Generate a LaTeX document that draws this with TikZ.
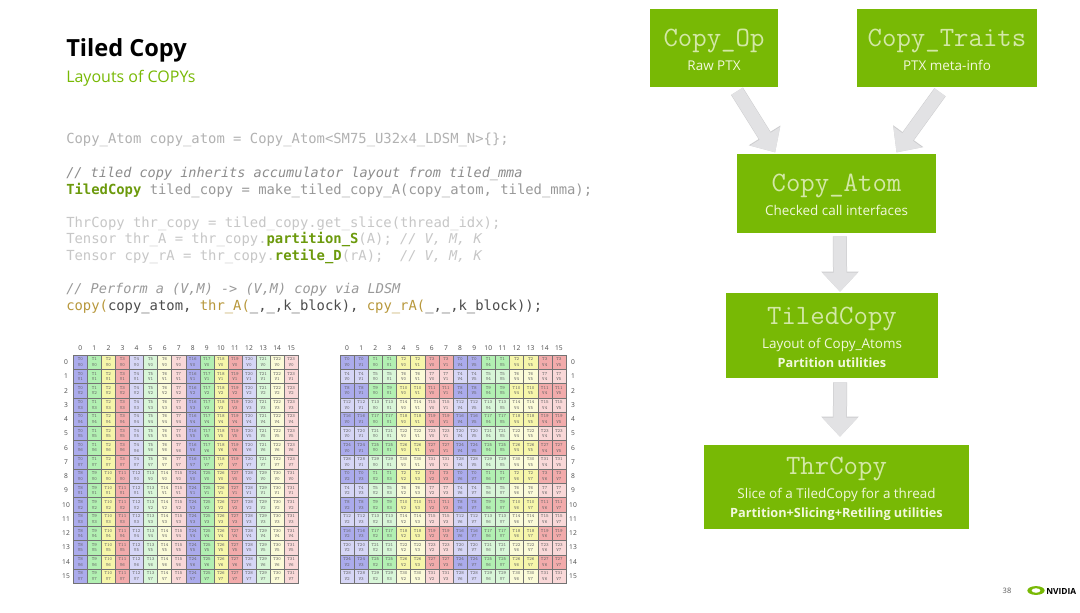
\documentclass[tikz,border=0pt]{standalone}
\usepackage{fontspec}
\setmainfont{Open Sans}
\newfontfamily\codefont{DejaVu Sans Mono}
\usetikzlibrary{arrows.meta, positioning, shapes.geometric}

\definecolor{nvgreen}{HTML}{78B905}
\definecolor{boxtext}{HTML}{F2F8DC}
\definecolor{arrowfill}{HTML}{E2E2E4}
\definecolor{arrowedge}{HTML}{CDCDCF}
\definecolor{codegold}{HTML}{B8983C}
\definecolor{codegreen}{HTML}{6C9A0C}
% strong and light cell colours, one of each per thread group
\definecolor{strong0}{HTML}{ABABEC}
\definecolor{strong1}{HTML}{B2F0B2}
\definecolor{strong2}{HTML}{F6F6AA}
\definecolor{strong3}{HTML}{F2ABAB}
\definecolor{light0}{HTML}{D6D6F6}
\definecolor{light1}{HTML}{D8F6D8}
\definecolor{light2}{HTML}{FBFBD8}
\definecolor{light3}{HTML}{F9D8D8}

\newcommand{\boxtitle}[1]{\rule{0pt}{15.5pt}{\ttfamily\fontsize{21}{21}\selectfont\color{boxtext!75!nvgreen} #1}}
\newcommand{\boxbold}[1]{{\bfseries\fontsize{9.55}{14.2}\selectfont #1}}
\newcommand{\codecomment}[1]{{\itshape\fontsize{10.15}{12}\selectfont #1}}

\begin{document}
\begin{tikzpicture}[
    x=0.75pt, y=-0.75pt,
    greenbox/.style={rectangle, fill=nvgreen, text=boxtext, align=center,
                     inner sep=0pt, font=\fontsize{10.1}{14.2}\selectfont},
    blockarrow/.style={arrowfill, line width=9.75pt, -{Triangle[length=14.25pt,width=25.5pt]},
                       preaction={draw=arrowedge, line width=10.5pt, -{Triangle[length=15pt,width=27pt]}}},
    codeline/.style={anchor=west, inner sep=0pt, text height=8pt, text depth=2pt,
                     font=\codefont\fontsize{10.4}{12}\selectfont},
    cell/.style={rectangle, draw=black!55, line width=0.3pt, inner sep=0pt, align=center,
                 minimum width=10.55pt, minimum height=10.7pt, text=black!60,
                 font=\ttfamily\fontsize{3.6}{4.2}\selectfont},
    gridlabel/.style={inner sep=0pt, text=black!70, font=\fontsize{5}{6}\selectfont}
]
\path[use as bounding box, fill=white] (0,0) rectangle (1080,613);

% Heading
\node[anchor=west, inner sep=0pt, font=\bfseries\fontsize{17.7}{22}\selectfont] (heading) at (66,50) {Tiled Copy};
\node[anchor=west, inner sep=0pt, text=nvgreen, font=\fontsize{12}{15}\selectfont] (subheading) at (66,78) {Layouts of COPYs};

% Code listing
\node[codeline, text=black!30] (code1) at (66,139.5) {Copy\_Atom copy\_atom = Copy\_Atom<SM75\_U32x4\_LDSM\_N>\{\};};
\node[codeline, text=black!45] (code2) at (66,173.5) {\codecomment{// tiled copy inherits accumulator layout from tiled\_mma}};
\node[codeline, text=black!40] (code3) at (66,190) {\textcolor{codegreen}{\bfseries TiledCopy} tiled\_copy = make\_tiled\_copy\_A(copy\_atom, tiled\_mma);};
\node[codeline, text=black!22] (code4) at (66,223) {ThrCopy thr\_copy = tiled\_copy.get\_slice(thread\_idx);};
\node[codeline, text=black!22] (code5) at (66,239.5) {Tensor thr\_A = thr\_copy.\textcolor{codegreen}{\bfseries partition\_S}(A); \codecomment{// V, M, K}};
\node[codeline, text=black!22] (code6) at (66,256.5) {Tensor cpy\_rA = thr\_copy.\textcolor{codegreen}{\bfseries retile\_D}(rA);\ \ \codecomment{// V, M, K}};
\node[codeline, text=black!40] (code7) at (66,289.5) {\codecomment{// Perform a (V,M) -> (V,M) copy via LDSM}};
\node[codeline, text=black!70] (code8) at (66,306.5) {\textcolor{codegold}{copy(}copy\_atom, \textcolor{codegold}{thr\_A(}\_,\_,k\_block), \textcolor{codegold}{cpy\_rA(}\_,\_,k\_block));};

% Left grid
\foreach \r in {0,...,15} {
    \node[gridlabel] (lrow\r) at (66,{362.1+14.27*\r}) {\r};
    \node[gridlabel] (lcol\r) at ({80.3+14.06*\r},348) {\r};
    \foreach \c in {0,...,15} {
        \pgfmathtruncatemacro{\hue}{mod(\c,4)}
        \pgfmathtruncatemacro{\tid}{\c+8*(\c>7)+8*(\r>7)}
        \pgfmathtruncatemacro{\vid}{mod(\r,8)}
        \pgfmathsetmacro{\tone}{mod(\c,8)<4 ? "strong" : "light"}
        \node[cell, fill=\tone\hue] (lc-\r-\c) at ({80.3+14.06*\c},{362.1+14.27*\r}) {T\tid\\V\vid};
    }
}

% Right grid
\foreach \r in {0,...,15} {
    \node[gridlabel] (rrow\r) at (573,{362.1+14.27*\r}) {\r};
    \node[gridlabel] (rcol\r) at ({347.1+14.12*\r},348) {\r};
    \foreach \c in {0,...,15} {
        \pgfmathtruncatemacro{\hue}{mod(int(\c/2),4)}
        \pgfmathtruncatemacro{\tid}{4*mod(\r,8)+int(mod(\c,8)/2)}
        \pgfmathtruncatemacro{\vid}{mod(\c,2)+4*(\c>7)+2*(\r>7)}
        \pgfmathsetmacro{\tone}{mod(\r,2)==0 ? "strong" : "light"}
        \node[cell, fill=\tone\hue] (rc-\r-\c) at ({347.1+14.12*\c},{362.1+14.27*\r}) {T\tid\\V\vid};
    }
}

% Class boxes
\node[greenbox, minimum width=96pt, minimum height=58.5pt] (op) at (714,48) {\boxtitle{Copy\_Op}\\[3.5pt]Raw PTX};
\node[greenbox, minimum width=135pt, minimum height=58.5pt] (traits) at (947,48) {\boxtitle{Copy\_Traits}\\[3.5pt]PTX meta-info};
\node[greenbox, minimum width=149.25pt, minimum height=59.25pt] (atom) at (836.5,193.5) {\boxtitle{Copy\_Atom}\\[3.5pt]Checked call interfaces};
\node[greenbox, minimum width=159pt, minimum height=63.75pt] (tiled) at (832,335.5) {\boxtitle{TiledCopy}\\[3.5pt]Layout of Copy\_Atoms\\\boxbold{Partition utilities}};
\node[greenbox, minimum width=198.75pt, minimum height=63pt] (thr) at (836.5,487) {\boxtitle{ThrCopy}\\[3.5pt]Slice of a TiledCopy for a thread\\\boxbold{Partition+Slicing+Retiling utilities}};

% Block arrows
\draw[blockarrow] ([xshift=17.25pt,yshift=-3pt]op.south) -- ([xshift=-46pt,yshift=1pt]atom.north);
\draw[blockarrow] ([xshift=-5.25pt,yshift=-3.75pt]traits.south) -- ([xshift=45pt,yshift=1pt]atom.north);
\draw[blockarrow] ([xshift=2.6pt,yshift=-2.25pt]atom.south) -- ([xshift=6pt,yshift=0.75pt]tiled.north);
\draw[blockarrow] ([xshift=6pt,yshift=-3pt]tiled.south) -- ([xshift=2.6pt,yshift=6pt]thr.north);

% Footer
\node[inner sep=0pt, text=black!65, font=\fontsize{5.6}{7}\selectfont] (pagenum) at (1007,591) {38};
\node[ellipse, fill=nvgreen, minimum width=13pt, minimum height=6.6pt, inner sep=0pt] (logoeye) at (1036,590.5) {};
\node[ellipse, fill=white, minimum width=6.5pt, minimum height=3.4pt, inner sep=0pt] (logopupil) at (logoeye) {};
\node[anchor=west, inner sep=0pt, font=\bfseries\fontsize{6.3}{8}\selectfont] (logotext) at (1046,591) {NVIDIA};
\end{tikzpicture}
\end{document}
